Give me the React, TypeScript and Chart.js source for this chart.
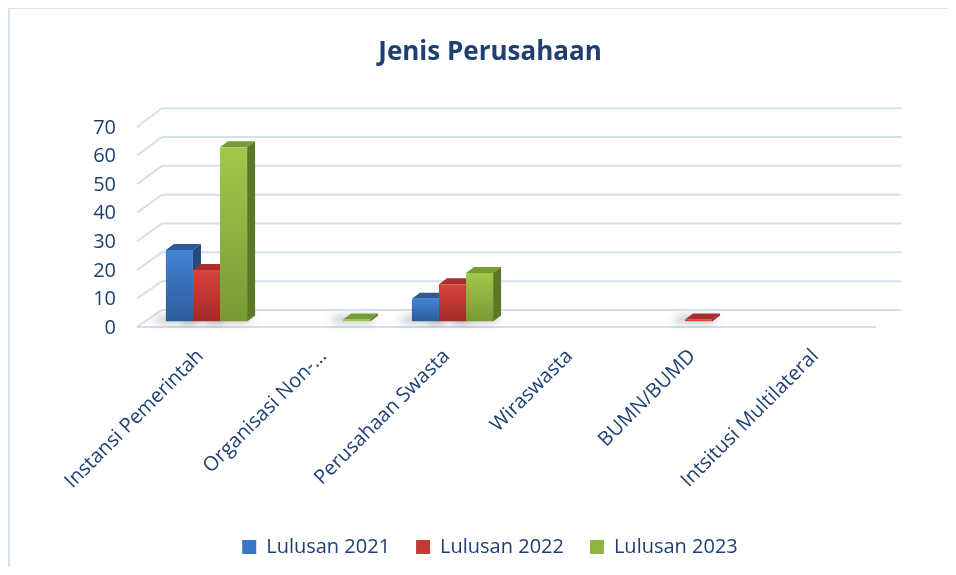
import React, { useEffect, useRef } from 'react';
import { Chart, registerables } from 'chart.js';

Chart.register(...registerables);

const categories = [
  'Instansi Pemerintah',
  'Organisasi Non-...',
  'Perusahaan Swasta',
  'Wiraswasta',
  'BUMN/BUMD',
  'Intsitusi Multilateral',
];
const seriesNames = ['Lulusan 2021', 'Lulusan 2022', 'Lulusan 2023'];
const lulusan2021: (number | null)[] = [25, null, 8, null, null, null];
const lulusan2022: (number | null)[] = [18, null, 13, null, 0, null];
const lulusan2023: (number | null)[] = [61, 0, 17, null, null, null];
const yTicks = [0, 10, 20, 30, 40, 50, 60, 70];

const TEXT = '#1f3f73';
const GRID = '#d3dff0';
const FONT = "'Open Sans', 'Noto Sans', sans-serif";

const palette = [
  { light: '#4184d6', dark: '#2c5b98', top: '#2c5a95', side: '#25497c', legend: '#3a74c4' },
  { light: '#d8433f', dark: '#a22a27', top: '#a92e2b', side: '#872220', legend: '#c63a36' },
  { light: '#a0c94c', dark: '#779a34', top: '#779c36', side: '#5b7828', legend: '#8db43f' },
];

const DX = 8;
const DY = 6;

const perspective3d = {
  id: 'perspective3d',
  beforeDatasetsDraw(chart: any) {
    const { ctx, chartArea } = chart;
    const y = chart.scales.y;
    ctx.save();

    // walls / gridlines
    const fx = chartArea.left - 8;
    const bx = fx + 25;
    const rx = chartArea.right + 18;
    ctx.strokeStyle = GRID;
    ctx.lineWidth = 2;
    yTicks.forEach((v) => {
      const p = y.getPixelForValue(v);
      const fy = p + 5.5;
      const by = p - 11.5 - v * 0.026;
      ctx.beginPath();
      ctx.moveTo(fx, fy);
      ctx.lineTo(bx, by);
      ctx.lineTo(rx, by);
      ctx.stroke();
    });
    const p0 = y.getPixelForValue(0) + 5.5;
    ctx.beginPath();
    ctx.moveTo(fx, p0);
    ctx.lineTo(chartArea.right - 7, p0);
    ctx.stroke();

    // shadows on the floor
    ctx.save();
    ctx.filter = 'blur(4px)';
    ctx.fillStyle = 'rgba(0,0,0,0.28)';
    chart.data.datasets.forEach((ds: any, di: number) => {
      const meta = chart.getDatasetMeta(di);
      meta.data.forEach((el: any, i: number) => {
        if (ds.data[i] === null || ds.data[i] === undefined) return;
        const { x, base, width } = el.getProps(['x', 'base', 'width'], true);
        const l = x - width / 2;
        const r = x + width / 2;
        ctx.beginPath();
        ctx.moveTo(l - 14, base + 1);
        ctx.lineTo(r, base + 1);
        ctx.lineTo(r + DX, base - DY + 1);
        ctx.lineTo(l - 6, base - DY + 1);
        ctx.closePath();
        ctx.fill();
      });
    });
    ctx.restore();

    // 3D top and side faces (fronts drawn by Chart.js afterwards)
    chart.data.datasets.forEach((ds: any, di: number) => {
      const meta = chart.getDatasetMeta(di);
      const col = palette[di];
      meta.data.forEach((el: any, i: number) => {
        if (ds.data[i] === null || ds.data[i] === undefined) return;
        const { x, y: top0, base: base0, width } = el.getProps(['x', 'y', 'base', 'width'], true);
        const top = Math.min(top0, base0);
        const base = Math.max(top0, base0);
        const l = x - width / 2;
        const r = x + width / 2;
        ctx.fillStyle = col.top;
        ctx.beginPath();
        ctx.moveTo(l, top);
        ctx.lineTo(l + DX, top - DY);
        ctx.lineTo(r + DX, top - DY);
        ctx.lineTo(r, top);
        ctx.closePath();
        ctx.fill();
        ctx.fillStyle = col.side;
        ctx.beginPath();
        ctx.moveTo(r, top);
        ctx.lineTo(r + DX, top - DY);
        ctx.lineTo(r + DX, base - DY);
        ctx.lineTo(r, base);
        ctx.closePath();
        ctx.fill();
      });
    });
    ctx.restore();
  },
};

function frontFill(di: number) {
  return (c: any) => {
    const col = palette[di];
    const chart = c.chart;
    if (!chart.chartArea || c.type !== 'data' || c.raw === null) return col.legend;
    const ys = chart.scales.y;
    const top = ys.getPixelForValue(c.raw);
    const base = ys.getPixelForValue(0);
    if (!isFinite(top) || !isFinite(base) || Math.abs(base - top) < 1) return col.light;
    const g = chart.ctx.createLinearGradient(0, top, 0, base);
    g.addColorStop(0, col.light);
    g.addColorStop(1, col.dark);
    return g;
  };
}

export default function App() {
  const ref = useRef<HTMLCanvasElement>(null);
  useEffect(() => {
    if (!ref.current) return;
    const seriesData = [lulusan2021, lulusan2022, lulusan2023];
    const chart = new Chart(ref.current, {
      type: 'bar',
      data: {
        labels: categories,
        datasets: seriesNames.map((name, di) => ({
          label: name,
          data: seriesData[di],
          backgroundColor: frontFill(di),
          borderWidth: 0,
          minBarLength: 2,
          categoryPercentage: 0.66,
          barPercentage: 1,
        })),
      },
      options: {
        animation: false,
        responsive: false,
        layout: { padding: { left: 22, right: 0, top: 0, bottom: 0 } },
        plugins: {
          title: {
            display: true,
            text: 'Jenis Perusahaan',
            color: TEXT,
            font: { family: FONT, size: 26, weight: 'bold' },
            padding: { top: 28.4, bottom: 52.9 },
          },
          legend: {
            position: 'bottom',
            labels: {
              color: TEXT,
              font: { family: FONT, size: 20 },
              boxWidth: 14,
              boxHeight: 14,
              padding: 26,
              generateLabels: (ch: any) =>
                ch.data.datasets.map((ds: any, i: number) => ({
                  text: ds.label,
                  fillStyle: palette[i].legend,
                  strokeStyle: palette[i].legend,
                  lineWidth: 0,
                  fontColor: TEXT,
                  hidden: !ch.isDatasetVisible(i),
                  datasetIndex: i,
                })),
            },
          },
          tooltip: { enabled: false },
        },
        scales: {
          x: {
            grid: { display: false, drawTicks: false },
            border: { display: false },
            ticks: {
              color: TEXT,
              font: { family: FONT, size: 20 },
              minRotation: 45,
              maxRotation: 45,
              autoSkip: false,
              padding: 23,
              labelOffset: -6,
            },
            afterFit: (s: any) => {
              s.height = 189.5;
            },
          },
          y: {
            position: 'left',
            min: 0,
            max: 70,
            grid: { display: false, drawTicks: false },
            border: { display: false },
            ticks: {
              stepSize: 10,
              color: TEXT,
              font: { family: FONT, size: 20 },
              padding: 29,
              labelOffset: 6.5,
            },
            afterFit: (s: any) => {
              s.width = 113;
            },
          },
          yRight: {
            position: 'right',
            display: true,
            grid: { display: false, drawTicks: false },
            border: { display: false },
            ticks: { display: false },
            afterFit: (s: any) => {
              s.width = 65;
            },
          },
        },
      },
      plugins: [perspective3d],
    } as any);
    return () => chart.destroy();
  }, []);
  return (
    <div
      style={{
        width: 938,
        height: 558,
        borderLeft: '2px solid #d9e4f2',
        borderTop: '1px solid #d9e4f2',
      }}
    >
      <canvas ref={ref} width={938} height={558} style={{ display: 'block' }} />
    </div>
  );
}
